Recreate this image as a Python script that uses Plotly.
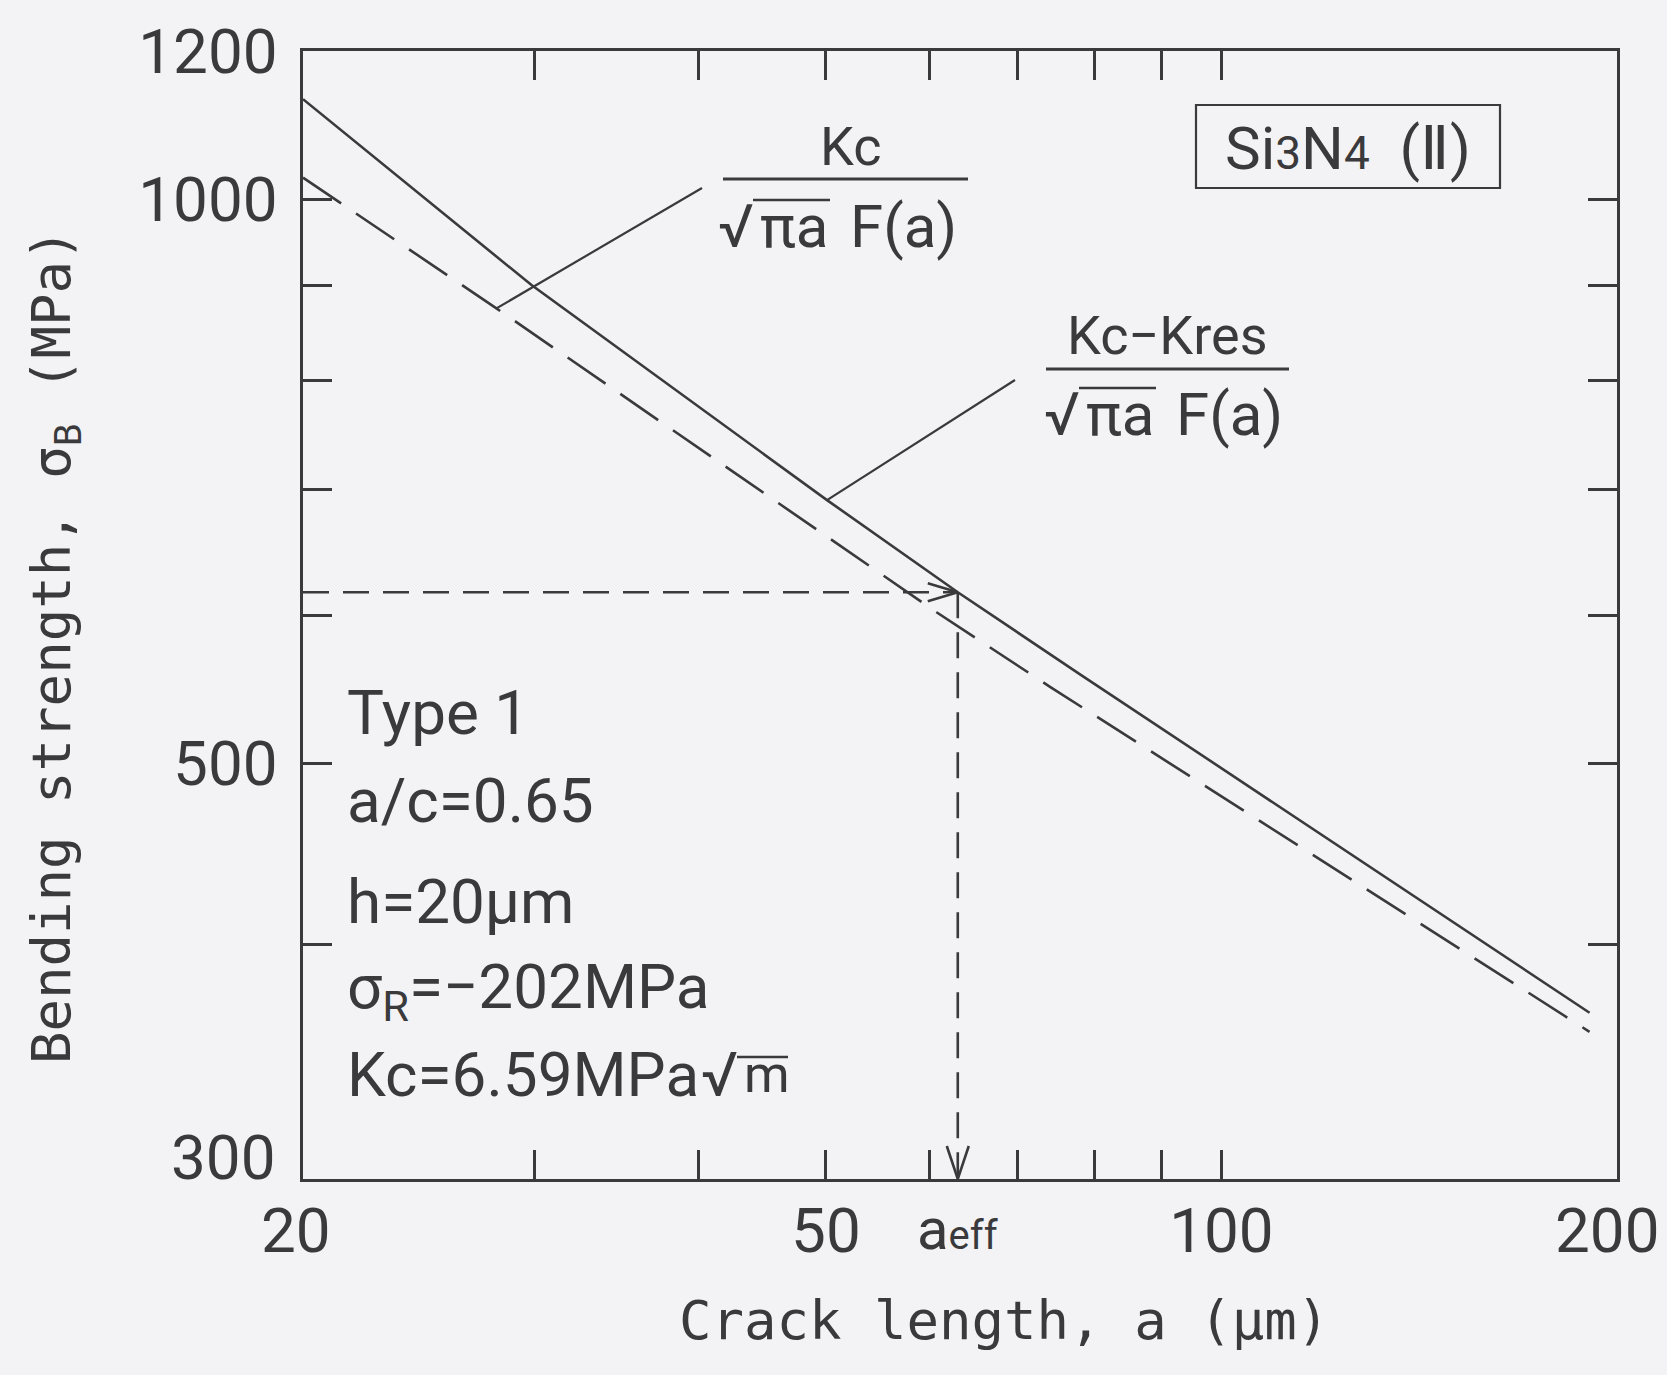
import math
import plotly.graph_objects as go

# Crack length a (um) and bending strength (MPa) for the two fracture criteria
a_kc = [20, 28.07, 60.7, 74.0, 190.6]
sigma_kc = [1027, 874.6, 602, 549.5, 359.5]            # Kc / (sqrt(pi a) F(a))

a_kres = [20, 29.85, 50.1, 63.0, 78.0, 190.6]
sigma_kres = [1131, 900, 691, 617, 558, 368]           # (Kc - Kres) / (sqrt(pi a) F(a))

a_eff = 63.0
sigma_eff = 617.0

x_range = [20, 200]
y_range = [300, 1200]
x_tickvals = [20, 30, 40, 50, 60, 70, 80, 90, 100, 200]
x_ticktext = ["", "", "", "50", "", "", "", "", "100", ""]
y_tickvals = [300, 400, 500, 600, 700, 800, 900, 1000, 1200]
y_ticktext = ["", "", "500", "", "", "", "", "1000", "1200"]

# ---- figure geometry (pixels) ----
W, H = 1667, 1375
L, R, T, B = 303, 1617, 51, 1179
INK = "#3a3a3c"
BG = "#f3f3f5"
FONT = "Roboto"
MONO = "DejaVu Sans Mono"

lx0, lx1 = math.log10(x_range[0]), math.log10(x_range[1])
ly0, ly1 = math.log10(y_range[0]), math.log10(y_range[1])


def px(x):
    return (x - L) / (R - L)


def py(y):
    return (B - y) / (B - T)


def data_x(xp):
    return 10 ** (lx0 + (xp - L) / (R - L) * (lx1 - lx0))


def data_y(yp):
    return 10 ** (ly0 + (B - yp) / (B - T) * (ly1 - ly0))


def shift_x(a, dpx):
    return a * 10 ** (dpx / (R - L) * (lx1 - lx0))


def shift_y(s, dpx):
    return s * 10 ** (dpx / (B - T) * (ly1 - ly0))


fig = go.Figure()

line_style = dict(color=INK, width=2.6)

fig.add_trace(go.Scatter(x=a_kres, y=sigma_kres, mode="lines",
                         line=dict(**line_style), hoverinfo="skip"))
fig.add_trace(go.Scatter(x=a_kc, y=sigma_kc, mode="lines",
                         line=dict(**line_style, dash="46px,18px"), hoverinfo="skip"))

# dashed guide lines to a_eff
guide = dict(color=INK, width=2.6, dash="26px,14px")
fig.add_trace(go.Scatter(x=[x_range[0], a_eff], y=[sigma_eff, sigma_eff], mode="lines",
                         line=guide, hoverinfo="skip"))
fig.add_trace(go.Scatter(x=[a_eff, a_eff], y=[sigma_eff, y_range[0]], mode="lines",
                         line=guide, hoverinfo="skip"))

# arrow heads (open V)
head = dict(color=INK, width=2.6)
fig.add_trace(go.Scatter(
    x=[shift_x(a_eff, -30), a_eff, shift_x(a_eff, -30)],
    y=[shift_y(sigma_eff, 9), sigma_eff, shift_y(sigma_eff, -9)],
    mode="lines", line=head, hoverinfo="skip"))
fig.add_trace(go.Scatter(
    x=[shift_x(a_eff, -11), a_eff, shift_x(a_eff, 11)],
    y=[shift_y(y_range[0], 33), y_range[0], shift_y(y_range[0], 33)],
    mode="lines", line=head, hoverinfo="skip"))

# leader lines from the formula labels to the curves
fig.add_trace(go.Scatter(x=[data_x(702), a_kc[1]], y=[data_y(188), sigma_kc[1]],
                         mode="lines", line=dict(color=INK, width=2.2), hoverinfo="skip"))
fig.add_trace(go.Scatter(x=[data_x(1015), a_kres[2]], y=[data_y(380), sigma_kres[2]],
                         mode="lines", line=dict(color=INK, width=2.2), hoverinfo="skip"))

annotations = []
shapes = []


def text(x, y, s, size, xanchor="center", yanchor="middle", family=FONT, **kw):
    annotations.append(dict(x=px(x), y=py(y), xref="paper", yref="paper", text=s,
                            showarrow=False, xanchor=xanchor, yanchor=yanchor,
                            font=dict(family=family, size=size, color=INK), **kw))


def hline(x0, x1, y, width=3):
    shapes.append(dict(type="line", xref="paper", yref="paper",
                       x0=px(x0), x1=px(x1), y0=py(y), y1=py(y),
                       line=dict(color=INK, width=width)))


def radical(x_root, x_bar_end, y_bar, y_text, body, size, body_size=None,
            tail=None, x_tail=None):
    """Square-root sign with a vinculum drawn over its argument."""
    text(x_root, y_text, "√", size, xanchor="right")
    text(x_root + 2, y_text, body, body_size or size, xanchor="left")
    hline(x_root - 3, x_bar_end, y_bar, width=2.6)
    if tail:
        text(x_tail, y_text, tail, size, xanchor="left")


# Kc / (sqrt(pi a) F(a))
text(850, 146, "Kc", 54)
hline(723, 968, 179)
radical(756, 830, 200, 226, "πa", 60, tail="F(a)", x_tail=848)

# (Kc - Kres) / (sqrt(pi a) F(a))
text(1167, 335, "Kc−Kres", 54)
hline(1046, 1289, 369)
radical(1082, 1156, 388, 414, "πa", 60, tail="F(a)", x_tail=1174)

# material box
shapes.append(dict(type="rect", xref="paper", yref="paper",
                   x0=px(1196), x1=px(1500), y0=py(188), y1=py(105),
                   line=dict(color=INK, width=2.2)))
text(1348, 148, "Si<span style='font-size:46px'>3</span>N<span style='font-size:46px'>4</span>  (Ⅱ)", 60)

# test conditions
cond = ["Type 1", "a/c=0.65", "h=20μm", "σ<sub>R</sub>=−202MPa", "Kc=6.59MPa"]
cond_y = [712, 800, 901, 991, 1074]
for s, yy in zip(cond, cond_y):
    text(345, yy, s, 62, xanchor="left")
radical(740, 788, 1057, 1074, "m", 62, body_size=52)

# a_eff label under the axis
annotations.append(dict(x=math.log10(a_eff), y=py(1229), xref="x", yref="paper",
                        text="a<span style='font-size:40px'>eff</span>", showarrow=False,
                        xanchor="center", yanchor="middle",
                        font=dict(family=FONT, size=58, color=INK)))

# labels at the corners of the frame
text(278, 1157, "300", 62, xanchor="right")
text(296, 1230, "20", 62)
text(1607, 1230, "200", 62)

# axis titles
text(1004, 1320, "Crack length, a (μm)", 54, family=MONO)
text(55, 646, "Bending strength, σ<sub>B</sub> (MPa)", 54, family=MONO, textangle=-90)

axis_common = dict(type="log", showline=True, linecolor=INK, linewidth=3,
                   mirror="allticks", ticks="inside", ticklen=29, tickwidth=2.6,
                   tickcolor=INK, showgrid=False, zeroline=False,
                   tickfont=dict(family=FONT, size=62, color=INK))

fig.update_xaxes(range=[lx0, lx1], tickvals=x_tickvals, ticktext=x_ticktext,
                 ticklabelstandoff=-4, **axis_common)
fig.update_yaxes(range=[ly0, ly1], tickvals=y_tickvals, ticktext=y_ticktext,
                 ticklabelstandoff=10, **axis_common)

fig.update_layout(width=W, height=H, showlegend=False,
                  margin=dict(l=L, r=W - R, t=T, b=H - B),
                  paper_bgcolor=BG, plot_bgcolor=BG,
                  annotations=annotations, shapes=shapes)

fig.write_html("out.html", config={"displayModeBar": False})
